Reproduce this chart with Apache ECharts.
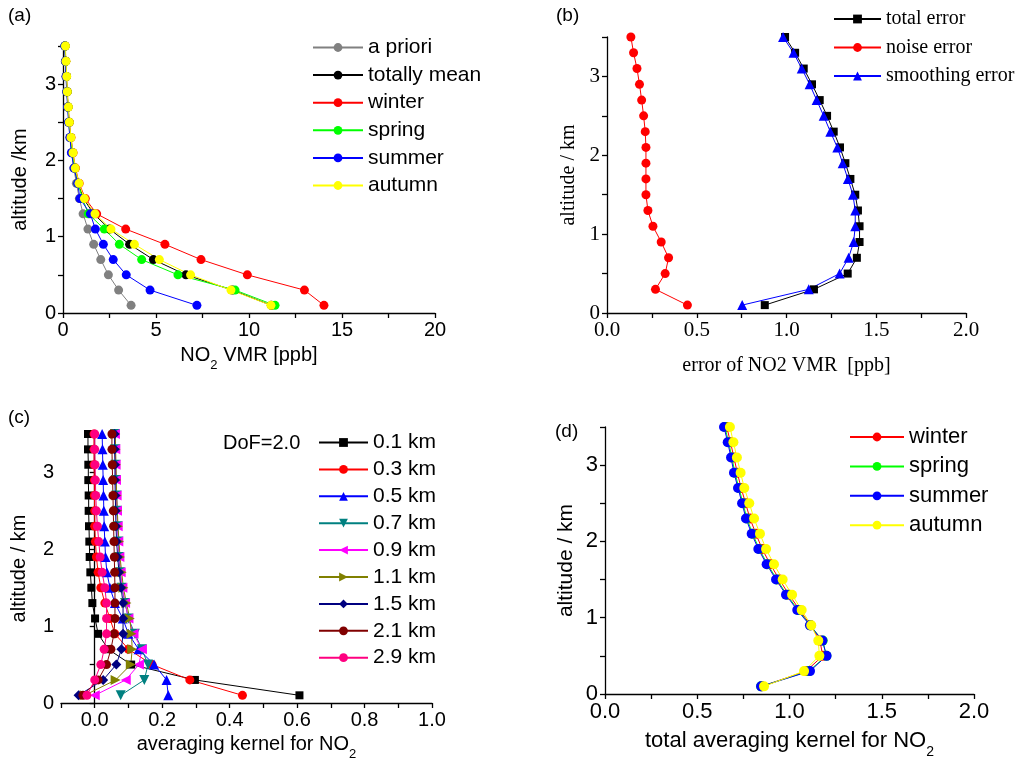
<!DOCTYPE html>
<html>
<head>
<meta charset="utf-8">
<script src="https://cdn.jsdelivr.net/npm/echarts@6/dist/echarts.min.js"></script>
<style>
  html, body { margin: 0; padding: 0; background: #fff; }
  #chart { width: 1023px; height: 765px; }
</style>
</head>
<body>
<div id="chart"></div>
<script>
// altitude levels (km) shared by all panels
var altitudes = [0.1, 0.3, 0.5, 0.7, 0.9, 1.1, 1.3, 1.5, 1.7, 1.9, 2.1, 2.3, 2.5, 2.7, 2.9, 3.1, 3.3, 3.5];

// (a) NO2 VMR profiles [ppb]
var aPriori     = [3.66, 2.99, 2.44, 2.03, 1.65, 1.34, 1.08, 0.88, 0.72, 0.58, 0.47, 0.38, 0.31, 0.26, 0.21, 0.17, 0.14, 0.11];
var totallyMean = [11.2, 9.1, 6.61, 4.86, 3.58, 2.5, 1.65, 1.1, 0.83, 0.64, 0.52, 0.41, 0.33, 0.27, 0.22, 0.18, 0.14, 0.11];
var winterVmr   = [14.03, 12.98, 9.91, 7.42, 5.48, 3.37, 1.81, 1.2, 0.87, 0.67, 0.54, 0.43, 0.34, 0.28, 0.23, 0.19, 0.15, 0.12];
var springVmr   = [11.4, 9.25, 6.18, 4.23, 3.03, 2.22, 1.36, 1.05, 0.8, 0.62, 0.5, 0.4, 0.32, 0.27, 0.22, 0.18, 0.14, 0.11];
var summerVmr   = [7.2, 4.68, 3.4, 2.7, 2.17, 1.74, 1.47, 0.91, 0.79, 0.59, 0.45, 0.37, 0.3, 0.25, 0.2, 0.16, 0.13, 0.1];
var autumnVmr   = [11.18, 9.03, 6.86, 5.18, 3.84, 2.58, 1.72, 1.15, 0.86, 0.66, 0.54, 0.43, 0.34, 0.29, 0.23, 0.2, 0.16, 0.13];

// (b) retrieval errors [ppb]
var totalError     = [0.879, 1.153, 1.341, 1.392, 1.407, 1.407, 1.398, 1.383, 1.356, 1.328, 1.298, 1.263, 1.226, 1.185, 1.142, 1.096, 1.048, 0.992];
var noiseError     = [0.448, 0.27, 0.324, 0.343, 0.302, 0.256, 0.228, 0.217, 0.217, 0.217, 0.217, 0.213, 0.204, 0.193, 0.181, 0.167, 0.148, 0.133];
var smoothingError = [0.753, 1.124, 1.296, 1.346, 1.374, 1.383, 1.383, 1.37, 1.342, 1.313, 1.283, 1.244, 1.207, 1.168, 1.129, 1.085, 1.039, 0.981];

// (c) averaging kernels, one row per nominal altitude
var kernelNames = ['0.1 km', '0.3 km', '0.5 km', '0.7 km', '0.9 km', '1.1 km', '1.5 km', '2.1 km', '2.9 km'];
var kernel01 = [0.607, 0.297, 0.108, 0.04, 0.01, 0.001, -0.007, -0.01, -0.013, -0.015, -0.016, -0.017, -0.018, -0.018, -0.019, -0.019, -0.02, -0.02];
var kernel03 = [0.438, 0.282, 0.17, 0.1, 0.06, 0.045, 0.03, 0.018, 0.01, 0.005, 0.002, 0.0, 0.0, -0.001, -0.001, -0.002, -0.002, -0.002];
var kernel05 = [0.218, 0.213, 0.176, 0.13, 0.1, 0.083, 0.06, 0.045, 0.036, 0.032, 0.03, 0.028, 0.027, 0.026, 0.025, 0.024, 0.023, 0.022];
var kernel07 = [0.077, 0.147, 0.158, 0.14, 0.119, 0.1, 0.09, 0.08, 0.075, 0.072, 0.07, 0.068, 0.066, 0.065, 0.063, 0.062, 0.061, 0.06];
var kernel09 = [0.0, 0.092, 0.131, 0.14, 0.115, 0.1, 0.09, 0.082, 0.077, 0.073, 0.07, 0.068, 0.066, 0.065, 0.063, 0.062, 0.061, 0.06];
var kernel11 = [-0.03, 0.062, 0.107, 0.111, 0.109, 0.104, 0.094, 0.085, 0.08, 0.075, 0.072, 0.069, 0.067, 0.065, 0.064, 0.063, 0.062, 0.061];
var kernel15 = [-0.048, 0.025, 0.064, 0.079, 0.084, 0.084, 0.084, 0.078, 0.072, 0.068, 0.065, 0.063, 0.062, 0.061, 0.06, 0.06, 0.059, 0.059];
var kernel21 = [-0.035, 0.01, 0.035, 0.048, 0.057, 0.06, 0.06, 0.06, 0.059, 0.058, 0.057, 0.056, 0.055, 0.054, 0.053, 0.052, 0.051, 0.051];
var kernel29 = [-0.023, 0.0, 0.018, 0.028, 0.035, 0.035, 0.035, 0.03, 0.022, 0.016, 0.012, 0.008, 0.005, 0.003, 0.002, 0.001, 0.0, 0.0];

// (d) total averaging kernel per season
var winterAk = [0.85, 1.09, 1.18, 1.165, 1.115, 1.055, 0.998, 0.945, 0.896, 0.852, 0.818, 0.786, 0.762, 0.738, 0.717, 0.699, 0.68, 0.66];
var springAk = [0.846, 1.105, 1.2, 1.18, 1.113, 1.047, 0.986, 0.932, 0.881, 0.836, 0.8, 0.769, 0.748, 0.726, 0.704, 0.688, 0.67, 0.65];
var summerAk = [0.846, 1.111, 1.201, 1.178, 1.111, 1.042, 0.981, 0.927, 0.876, 0.831, 0.795, 0.764, 0.743, 0.721, 0.699, 0.683, 0.665, 0.645];
var autumnAk = [0.862, 1.079, 1.162, 1.156, 1.118, 1.066, 1.014, 0.963, 0.916, 0.873, 0.84, 0.808, 0.782, 0.755, 0.735, 0.715, 0.696, 0.677];

var SANS = 'Liberation Sans';
var SERIF = 'Liberation Serif';

function profile(values) {
    return values.map(function(v, i) { return [v, altitudes[i]]; });
}

function stepLabel(step, decimals) {
    return function(v) {
        var k = v / step;
        if (v < -1e-9 || Math.abs(k - Math.round(k)) > 1e-6) return '';
        return v.toFixed(decimals);
    };
}

function axisBase(font, size) {
    return {
        axisLine: { lineStyle: { color: '#000', width: 1.3 } },
        axisTick: { length: 5, lineStyle: { color: '#000', width: 1.3 } },
        axisLabel: { color: '#000', fontFamily: font, fontSize: size, margin: 7 },
        splitLine: { show: false }
    };
}

function xAxis(grid, min, max, interval, step, decimals, font, size, name, nameGap, nameStyle) {
    var ax = axisBase(font, size);
    ax.type = 'value';
    ax.gridIndex = grid;
    ax.min = min; ax.max = max; ax.interval = interval;
    ax.axisLabel.formatter = stepLabel(step, decimals);
    ax.name = name;
    ax.nameLocation = 'middle';
    ax.nameGap = nameGap;
    ax.nameTextStyle = nameStyle;
    return ax;
}

function yAxis(grid, font, size, name, nameGap, nameStyle) {
    var ax = axisBase(font, size);
    ax.type = 'value';
    ax.gridIndex = grid;
    ax.min = 0; ax.max = 3.5; ax.interval = 0.5;
    ax.axisLabel.formatter = stepLabel(1, 0);
    ax.name = name;
    ax.nameLocation = 'middle';
    ax.nameGap = nameGap;
    ax.nameTextStyle = nameStyle;
    return ax;
}

function subName(size, font) {
    return {
        color: '#000',
        rich: {
            t: { fontFamily: font, fontSize: size, lineHeight: size + 4, verticalAlign: 'top', color: '#000' },
            s: { fontFamily: font, fontSize: Math.round(size * 0.65), lineHeight: Math.round(size * 0.65), padding: [Math.round(size * 0.7), 0, 0, 0], verticalAlign: 'top', color: '#000' }
        }
    };
}

function line(name, values, color, grid, symbol, size, rotate) {
    return {
        name: name,
        type: 'line',
        xAxisIndex: grid,
        yAxisIndex: grid,
        data: profile(values),
        symbol: symbol,
        symbolSize: size,
        symbolRotate: rotate || 0,
        showAllSymbol: true,
        lineStyle: { color: color, width: 1 },
        itemStyle: { color: color, borderWidth: 0 },
        emphasis: { disabled: true }
    };
}

function legend(names, left, top, itemWidth, gap, font, size) {
    return {
        data: names,
        orient: 'vertical',
        left: left,
        top: top,
        padding: 0,
        itemWidth: itemWidth,
        itemHeight: 11,
        itemGap: gap,
        textStyle: { fontFamily: font, fontSize: size, color: '#000' },
        selectedMode: false
    };
}

function label(text, left, top, size) {
    return { text: text, left: left, top: top, padding: 0, textStyle: { fontFamily: SANS, fontSize: size, fontWeight: 'normal', color: '#000' } };
}

var kernelColors = ['#000000', '#FF0000', '#0000FF', '#008080', '#FF00FF', '#808000', '#000080', '#800000', '#FF0080'];
var kernelSymbols = [['rect', 8, 0], ['circle', 9, 0], ['triangle', 10, 0], ['triangle', 10, 180], ['triangle', 10, 90], ['triangle', 10, -90], ['diamond', 10, 0], ['circle', 9, 0], ['circle', 9, 0]];
var kernels = [kernel01, kernel03, kernel05, kernel07, kernel09, kernel11, kernel15, kernel21, kernel29];

var seriesList = [
    line('a priori', aPriori, '#808080', 0, 'circle', 9),
    line('totally mean', totallyMean, '#000000', 0, 'circle', 9),
    line('winter', winterVmr, '#FF0000', 0, 'circle', 9),
    line('spring', springVmr, '#00FF00', 0, 'circle', 9),
    line('summer', summerVmr, '#0000FF', 0, 'circle', 9),
    line('autumn', autumnVmr, '#FFFF00', 0, 'circle', 9),

    line('total error', totalError, '#000000', 1, 'rect', 8),
    line('noise error', noiseError, '#FF0000', 1, 'circle', 9),
    line('smoothing error', smoothingError, '#0000FF', 1, 'triangle', 10)
];
kernels.forEach(function(k, i) {
    seriesList.push(line(kernelNames[i], k, kernelColors[i], 2, kernelSymbols[i][0], kernelSymbols[i][1], kernelSymbols[i][2]));
});
seriesList.push(
    line('winter', winterAk, '#FF0000', 3, 'circle', 10),
    line('spring', springAk, '#00FF00', 3, 'circle', 10),
    line('summer', summerAk, '#0000FF', 3, 'circle', 10),
    line('autumn', autumnAk, '#FFFF00', 3, 'circle', 10)
);

var option = {
    animation: false,
    backgroundColor: '#fff',
    title: [
        label('(a)', 8, 6, 19),
        label('(b)', 556, 6, 19),
        label('(c)', 8, 408, 19),
        label('(d)', 555, 422, 19),
        label('DoF=2.0', 223, 433, 20)
    ],
    grid: [
        { left: 63, top: 46, width: 372, height: 267 },
        { left: 607, top: 37, width: 359, height: 276 },
        { left: 61, top: 434, width: 371, height: 269 },
        { left: 605, top: 427, width: 369, height: 267 }
    ],
    xAxis: [
        xAxis(0, 0, 20, 2.5, 5, 0, SANS, 20, '{t|NO}{s|2}{t| VMR [ppb]}', 32, subName(20, SANS)),
        xAxis(1, 0, 2, 0.25, 0.5, 1, SERIF, 21, 'error of NO2 VMR  [ppb]', 43, { fontFamily: SERIF, fontSize: 20, color: '#000' }),
        xAxis(2, -0.1, 1.0, 0.1, 0.2, 1, SANS, 20, '{t|averaging kernel for NO}{s|2}', 31, subName(20, SANS)),
        xAxis(3, 0, 2, 0.25, 0.5, 1, SANS, 22, '{t|total averaging kernel for NO}{s|2}', 36, subName(22, SANS))
    ],
    yAxis: [
        yAxis(0, SANS, 20, 'altitude /km', 33, { fontFamily: SANS, fontSize: 20, color: '#000' }),
        yAxis(1, SERIF, 21, 'altitude / km', 28, { fontFamily: SERIF, fontSize: 20, color: '#000' }),
        yAxis(2, SANS, 20, 'altitude / km', 32, { fontFamily: SANS, fontSize: 20, color: '#000' }),
        yAxis(3, SANS, 22, 'altitude / km', 28, { fontFamily: SANS, fontSize: 21, color: '#000' })
    ],
    legend: [
        legend(['a priori', 'totally mean', 'winter', 'spring', 'summer', 'autumn'], 312, 37, 50, 6.6, SANS, 21),
        legend(['total error', 'noise error', 'smoothing error'], 833, 9, 47, 8.5, SERIF, 20),
        legend(kernelNames, 318, 432, 49, 5.9, SANS, 21),
        legend(['winter', 'spring', 'summer', 'autumn'], 849, 426, 54, 7.4, SANS, 22)
    ],
    series: seriesList
};

var chart = echarts.init(document.getElementById('chart'));
chart.setOption(option);
</script>
</body>
</html>
